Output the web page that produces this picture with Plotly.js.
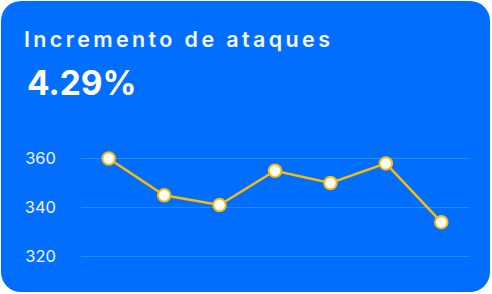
<!DOCTYPE html>
<html><head><meta charset="utf-8">
<script src="https://cdn.plot.ly/plotly-3.0.1.min.js"></script>
<style>
html,body{margin:0;padding:0;background:#ffffff;}
#card{position:absolute;left:1px;top:1px;width:489px;height:291px;border-radius:20px;background:#026efe;overflow:hidden;}
#chart{width:489px;height:291px;}
</style>
</head><body>
<div id="card"><div id="chart"></div></div>
<script>
var categories = ['Lun','Mar','Mié','Jue','Vie','Sáb','Dom'];
var values = [360, 345, 341, 355, 350, 358, 334];
var tickValues = [320, 340, 360];
var titleText = 'Incremento de ataques';
var kpiText = '4.29%';

var W = 489, H = 291;
var ml = 79.5, mr = 20.5, mt = 132.7, mb = 10.7;
var pw = W - ml - mr, ph = H - mt - mb;
function px(x){ return (x - ml) / pw; }
function py(y){ return (H - mb - y) / ph; }

var trace = {
  x: categories, y: values, type: 'scatter', mode: 'lines+markers',
  line: {color: '#f7bb0c', width: 2.5},
  marker: {size: 12.5, color: '#ffffff', line: {color: '#f7bb0c', width: 2}},
  hoverinfo: 'none', cliponaxis: false
};

var layout = {
  width: W, height: H,
  margin: {l: ml, r: mr, t: mt, b: mb, pad: 0},
  paper_bgcolor: 'rgba(0,0,0,0)', plot_bgcolor: 'rgba(0,0,0,0)',
  showlegend: false,
  xaxis: {type: 'category', range: [-0.5, 6.5], showgrid: false, zeroline: false,
          showticklabels: false, ticks: '', showline: false, fixedrange: true},
  yaxis: {range: [310, 370], tickvals: tickValues, showgrid: true, gridcolor: '#2a89ff', gridwidth: 1,
          zeroline: false, showline: false, ticks: '', ticklabelstandoff: 24,
          tickfont: {family: 'Inter, sans-serif', size: 16.5, color: '#f2f6ff'}, fixedrange: true},
  annotations: [
    {text: titleText, xref: 'paper', yref: 'paper', x: px(20), y: py(37.5), xanchor: 'left', yanchor: 'middle',
     showarrow: false, font: {family: 'Inter, sans-serif', size: 21.5, color: '#f4f7ff', weight: 600}},
    {text: kpiText, xref: 'paper', yref: 'paper', x: px(23.5), y: py(81.5), xanchor: 'left', yanchor: 'middle',
     showarrow: false, font: {family: 'Inter, sans-serif', size: 33.5, color: '#ffffff', weight: 700}}
  ]
};

Plotly.newPlot('chart', [trace], layout, {displayModeBar: false, staticPlot: true}).then(function(){
  var t = document.querySelector('#chart g.annotation[data-index="0"] text');
  if (!t) return;
  var natural = t.getComputedTextLength();
  var cx = parseFloat(t.getAttribute('x')) || 0;
  var target = 306;
  var ls = (target - natural) / (titleText.length - 1);
  t.setAttribute('text-anchor', 'start');
  t.setAttribute('x', cx - natural / 2);
  t.style.letterSpacing = ls + 'px';
});
</script>
</body></html>
